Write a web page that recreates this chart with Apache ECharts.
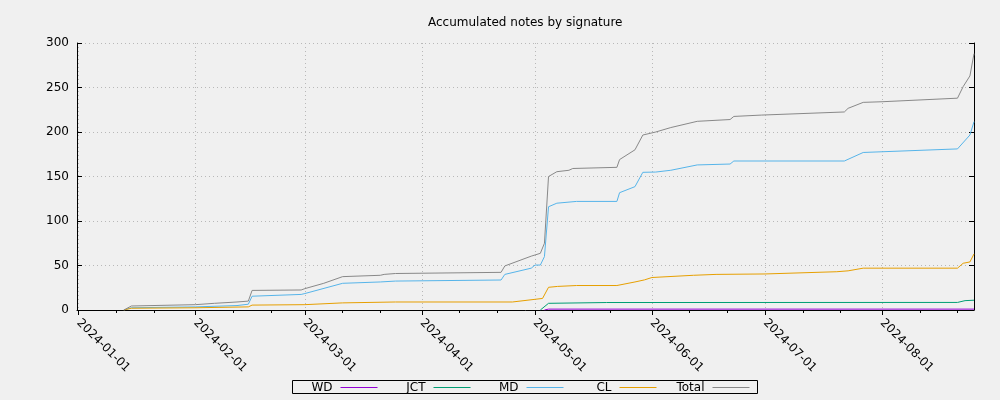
<!DOCTYPE html>
<html><head><meta charset="utf-8">
<script src="https://cdn.jsdelivr.net/npm/echarts@6/dist/echarts.min.js"></script>
<style>html,body{margin:0;padding:0;background:#f0f0f0}#c{width:1000px;height:400px}</style>
</head><body><div id="c"></div>
<script>
const chartTitle = 'Accumulated notes by signature';
const seriesNames = ['WD', 'JCT', 'MD', 'CL', 'Total'];
const seriesColors = ['#9400d3', '#009e73', '#56b4e9', '#e69f00', '#888888'];

const wdData = [
  ['2024-05-03 12:00', 0], ['2024-05-04 14:00', 1], ['2024-08-25 09:00', 1]
];
const jctData = [
  ['2024-05-02 10:00', 0], ['2024-05-04 14:00', 7.5], ['2024-05-20', 8.4],
  ['2024-08-21', 8.5], ['2024-08-23', 10.5], ['2024-08-25 09:00', 11]
];
const mdData = [
  ['2024-01-13', 0], ['2024-01-15', 2.5], ['2024-02-01', 3.5], ['2024-02-12', 5],
  ['2024-02-15', 6.5], ['2024-02-16', 15.5], ['2024-02-29', 17.5], ['2024-03-01', 18.5],
  ['2024-03-11', 30], ['2024-03-21', 31.5], ['2024-03-25', 32.5], ['2024-04-22', 33.7],
  ['2024-04-23', 40], ['2024-04-30', 47], ['2024-05-01', 50.5], ['2024-05-02 10:00', 50.5],
  ['2024-05-03 12:00', 60], ['2024-05-04 14:00', 116], ['2024-05-06 19:00', 120],
  ['2024-05-12', 122], ['2024-05-22 17:00', 122], ['2024-05-23 10:00', 131.8],
  ['2024-05-27 12:00', 138.6], ['2024-05-29 14:00', 154.7], ['2024-06-02', 155],
  ['2024-06-06', 157], ['2024-06-13', 163], ['2024-06-21 17:00', 164],
  ['2024-06-22 17:00', 167.4], ['2024-07-22', 167.4], ['2024-07-27', 177],
  ['2024-08-21', 181], ['2024-08-24 07:00', 196.6], ['2024-08-25 09:00', 211.6]
];
const clData = [
  ['2024-01-13', 0], ['2024-01-15', 2], ['2024-02-01', 2.5], ['2024-02-15', 3.5],
  ['2024-02-16', 5.5], ['2024-03-01', 6], ['2024-03-11', 8], ['2024-03-25', 9],
  ['2024-04-25', 9], ['2024-05-01', 12], ['2024-05-03', 13], ['2024-05-04 14:00', 25.5],
  ['2024-05-07', 26.5], ['2024-05-12', 27.5], ['2024-05-22 17:00', 27.5],
  ['2024-05-27 12:00', 31.5], ['2024-05-30', 33.8], ['2024-06-01', 36.5],
  ['2024-06-12', 39], ['2024-06-18', 40], ['2024-07-01', 40.5], ['2024-07-20', 43],
  ['2024-07-23', 44], ['2024-07-27', 47], ['2024-08-21', 47], ['2024-08-22 12:00', 52.5],
  ['2024-08-24 07:00', 54], ['2024-08-25 09:00', 63]
];
const totalData = [
  ['2024-01-13', 0], ['2024-01-15', 4.5], ['2024-02-01', 6], ['2024-02-06', 7.5],
  ['2024-02-12', 9], ['2024-02-15', 10], ['2024-02-16', 22], ['2024-02-29', 22.5],
  ['2024-03-01', 24], ['2024-03-06', 30], ['2024-03-11', 37.5], ['2024-03-21', 39],
  ['2024-03-22', 40], ['2024-03-25', 41], ['2024-04-22', 42.3], ['2024-04-23', 49.5],
  ['2024-04-30', 60.5], ['2024-05-02 10:00', 63.7], ['2024-05-03 12:00', 75],
  ['2024-05-04 14:00', 150], ['2024-05-06 19:00', 155.4], ['2024-05-10', 157],
  ['2024-05-11', 159], ['2024-05-22 17:00', 160.3], ['2024-05-23 10:00', 169],
  ['2024-05-27 12:00', 180], ['2024-05-29 14:00', 196.6], ['2024-06-02', 200],
  ['2024-06-06', 205], ['2024-06-13', 212], ['2024-06-21 17:00', 214],
  ['2024-06-22 17:00', 217.5], ['2024-06-30', 219], ['2024-07-22', 222.5],
  ['2024-07-23', 226.6], ['2024-07-27', 233.3], ['2024-08-01', 234],
  ['2024-08-21', 238], ['2024-08-22 12:00', 251], ['2024-08-24 07:00', 263],
  ['2024-08-25 09:00', 288]
];

const majorTicks = ['2024-01-01', '2024-02-01', '2024-03-01', '2024-04-01',
  '2024-05-01', '2024-06-01', '2024-07-01', '2024-08-01'];
const minorTicks = ['2024-01-11', '2024-01-21', '2024-02-11', '2024-02-21',
  '2024-03-11', '2024-03-21', '2024-04-11', '2024-04-21', '2024-05-11', '2024-05-21',
  '2024-06-11', '2024-06-21', '2024-07-11', '2024-07-21', '2024-08-11', '2024-08-21'];
const xRange = ['2023-12-31 14:00', '2024-08-25 09:00'];
const yRange = [0, 300];
const yStep = 50;

function t(s) {
  const parts = s.split(' ');
  const d = parts[0].split('-').map(Number);
  const hm = parts[1] ? parts[1].split(':').map(Number) : [0, 0];
  return new Date(d[0], d[1] - 1, d[2], hm[0], hm[1]).getTime();
}
const allData = [wdData, jctData, mdData, clData, totalData];
const FONT = 'DejaVu Sans';

// one legend entry per slot, right-anchored at the end of its line sample
const legendSlotRight = 622.5;
const legendSlotStep = 93;
const legends = seriesNames.map((name, i) => ({
  data: [name], right: legendSlotRight - i * legendSlotStep, top: 381.5, orient: 'horizontal',
  padding: 0, itemWidth: 37, itemHeight: 1, align: 'right', icon: 'rect',
  textStyle: {fontSize: 12, color: '#000', fontFamily: FONT, padding: [0, 3, 0, 0]}
}));

const chart = echarts.init(document.getElementById('c'), null, {renderer: 'canvas'});
chart.setOption({
  backgroundColor: '#f0f0f0',
  animation: false,
  title: {
    text: chartTitle, left: 428, top: 17, padding: 0,
    textStyle: {fontSize: 12, fontWeight: 'normal', color: '#000', fontFamily: FONT}
  },
  legend: legends,
  graphic: [{
    type: 'rect', silent: true, z: 10,
    shape: {x: 292.5, y: 380.5, width: 465, height: 13},
    style: {fill: 'none', stroke: '#000', lineWidth: 1}
  }],
  grid: {left: 77, right: 26, top: 43, bottom: 90, containLabel: false, outerBoundsMode: 'none'},
  xAxis: [{
    type: 'time', min: t(xRange[0]), max: t(xRange[1]), position: 'bottom',
    axisLine: {show: true, lineStyle: {color: '#000', width: 1}},
    axisTick: {show: true, inside: false, length: 5, lineStyle: {color: '#000'},
      customValues: majorTicks.map(t)},
    axisLabel: {show: true, rotate: -45, margin: 11, fontSize: 12, color: '#000', fontFamily: FONT,
      customValues: majorTicks.map(t), formatter: '{yyyy}-{MM}-{dd}', hideOverlap: false},
    splitLine: {show: true, lineStyle: {color: '#b8b8b8', type: [1, 3], width: 1}}
  }, {
    type: 'time', min: t(xRange[0]), max: t(xRange[1]), position: 'bottom', gridIndex: 0,
    axisLine: {show: false},
    axisTick: {show: true, inside: false, length: 3, lineStyle: {color: '#000'},
      customValues: minorTicks.map(t)},
    axisLabel: {show: false},
    splitLine: {show: false}
  }],
  yAxis: [{
    type: 'value', min: yRange[0], max: yRange[1], interval: yStep, position: 'left',
    axisLine: {show: true, lineStyle: {color: '#000', width: 1}},
    axisTick: {show: true, inside: true, length: 5, lineStyle: {color: '#000'}},
    axisLabel: {margin: 8, fontSize: 12, color: '#000', fontFamily: FONT},
    splitLine: {show: true, lineStyle: {color: '#b8b8b8', type: [1, 3], width: 1}}
  }, {
    type: 'value', min: yRange[0], max: yRange[1], interval: yStep, position: 'right',
    axisLine: {show: true, lineStyle: {color: '#000', width: 1}},
    axisTick: {show: true, inside: true, length: 5, lineStyle: {color: '#000'}},
    axisLabel: {show: false},
    splitLine: {show: false}
  }],
  series: seriesNames.map((name, i) => ({
    name: name, type: 'line', xAxisIndex: 0, yAxisIndex: 0,
    data: allData[i].map(p => [t(p[0]), p[1]]),
    symbol: 'none', showSymbol: false, smooth: false, silent: true,
    color: seriesColors[i],
    lineStyle: {color: seriesColors[i], width: 1},
    z: 2 + i
  }))
});
</script></body></html>
